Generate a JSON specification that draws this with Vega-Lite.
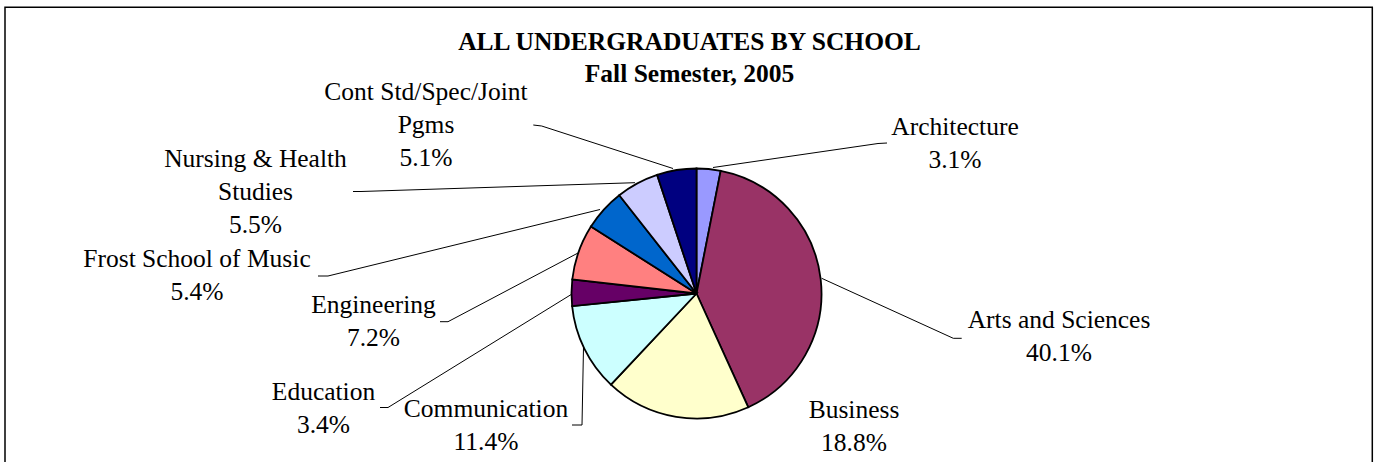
{
  "$schema": "https://vega.github.io/schema/vega-lite/v6.json",
  "width": 1379,
  "height": 462,
  "autosize": "none",
  "padding": 0,
  "background": "white",
  "config": {"view": {"stroke": null}},
  "datasets": {
    "slices": [
      {"ord": 1, "school": "Architecture", "pct": 3.1},
      {"ord": 2, "school": "Arts and Sciences", "pct": 40.1},
      {"ord": 3, "school": "Business", "pct": 18.8},
      {"ord": 4, "school": "Communication", "pct": 11.4},
      {"ord": 5, "school": "Education", "pct": 3.4},
      {"ord": 6, "school": "Engineering", "pct": 7.2},
      {"ord": 7, "school": "Frost School of Music", "pct": 5.4},
      {"ord": 8, "school": "Nursing & Health Studies", "pct": 5.5},
      {"ord": 9, "school": "Cont Std/Spec/Joint Pgms", "pct": 5.1}
    ],
    "labels": [
      {"school": "Architecture", "txt": "Architecture\n3.1%", "lx": 258.5, "ly": 158.5},
      {"school": "Arts and Sciences", "txt": "Arts and Sciences\n40.1%", "lx": 362.5, "ly": -34.5},
      {"school": "Business", "txt": "Business\n18.8%", "lx": 157.5, "ly": -124.5},
      {"school": "Communication", "txt": "Communication\n11.4%", "lx": -210.5, "ly": -123.5},
      {"school": "Education", "txt": "Education\n3.4%", "lx": -373, "ly": -106.5},
      {"school": "Engineering", "txt": "Engineering\n7.2%", "lx": -323, "ly": -19.5},
      {"school": "Frost School of Music", "txt": "Frost School of Music\n5.4%", "lx": -499.5, "ly": 26.5},
      {"school": "Nursing & Health Studies", "txt": "Nursing & Health\nStudies\n5.5%", "lx": -441, "ly": 126.8},
      {"school": "Cont Std/Spec/Joint Pgms", "txt": "Cont Std/Spec/Joint\nPgms\n5.1%", "lx": -270.5, "ly": 193.5}
    ],
    "leaders": [
      {"school": "Architecture", "seq": 1, "lx": 16.5, "ly": 126},
      {"school": "Architecture", "seq": 2, "lx": 181.5, "ly": 150},
      {"school": "Architecture", "seq": 3, "lx": 190.5, "ly": 150.5},
      {"school": "Arts and Sciences", "seq": 1, "lx": 125.2, "ly": 15.2},
      {"school": "Arts and Sciences", "seq": 2, "lx": 256.8, "ly": -44.8},
      {"school": "Arts and Sciences", "seq": 3, "lx": 265.2, "ly": -44.8},
      {"school": "Communication", "seq": 1, "lx": -113, "ly": -53.5},
      {"school": "Communication", "seq": 2, "lx": -114.5, "ly": -131.5},
      {"school": "Communication", "seq": 3, "lx": -124.5, "ly": -131.5},
      {"school": "Education", "seq": 1, "lx": -124.5, "ly": -0.5},
      {"school": "Education", "seq": 2, "lx": -308.5, "ly": -114},
      {"school": "Education", "seq": 3, "lx": -316.5, "ly": -114},
      {"school": "Engineering", "seq": 1, "lx": -118.5, "ly": 40.5},
      {"school": "Engineering", "seq": 2, "lx": -248.5, "ly": -28.2},
      {"school": "Engineering", "seq": 3, "lx": -256.5, "ly": -28.2},
      {"school": "Frost School of Music", "seq": 1, "lx": -96.5, "ly": 84},
      {"school": "Frost School of Music", "seq": 2, "lx": -368.5, "ly": 17.5},
      {"school": "Frost School of Music", "seq": 3, "lx": -378.5, "ly": 17.5},
      {"school": "Nursing & Health Studies", "seq": 1, "lx": -61.5, "ly": 110.8},
      {"school": "Nursing & Health Studies", "seq": 2, "lx": -335.5, "ly": 102},
      {"school": "Nursing & Health Studies", "seq": 3, "lx": -343.5, "ly": 102},
      {"school": "Cont Std/Spec/Joint Pgms", "seq": 1, "lx": -23.5, "ly": 125},
      {"school": "Cont Std/Spec/Joint Pgms", "seq": 2, "lx": -154.8, "ly": 167.5},
      {"school": "Cont Std/Spec/Joint Pgms", "seq": 3, "lx": -163.2, "ly": 168.5}
    ]
  },
  "layer": [
    {
      "data": {"values": [{"x1": -691.5, "x2": 675.8, "y1": 286.2, "y2": -200}]},
      "mark": {"type": "rect", "fill": null, "stroke": "#000000", "strokeWidth": 1.5},
      "encoding": {
        "x": {"field": "x1", "type": "quantitative", "scale": {"domain": [-696.5, 682.5], "nice": false, "zero": false}, "axis": null},
        "x2": {"field": "x2"},
        "y": {"field": "y1", "type": "quantitative", "scale": {"domain": [-168.5, 293.5], "nice": false, "zero": false}, "axis": null},
        "y2": {"field": "y2"}
      }
    },
    {
      "data": {"name": "leaders"},
      "mark": {"type": "line", "stroke": "#000000", "strokeWidth": 1, "interpolate": "linear"},
      "encoding": {
        "x": {"field": "lx", "type": "quantitative", "scale": {"domain": [-696.5, 682.5], "nice": false, "zero": false}, "axis": null},
        "y": {"field": "ly", "type": "quantitative", "scale": {"domain": [-168.5, 293.5], "nice": false, "zero": false}, "axis": null},
        "detail": {"field": "school", "type": "nominal"},
        "order": {"field": "seq", "type": "quantitative"}
      }
    },
    {
      "data": {"name": "slices"},
      "mark": {"type": "arc", "radius": 125, "stroke": "#000000", "strokeWidth": 1.8},
      "encoding": {
        "x": {"datum": 0, "type": "quantitative", "scale": {"domain": [-696.5, 682.5], "nice": false, "zero": false}, "axis": null},
        "y": {"datum": 0, "type": "quantitative", "scale": {"domain": [-168.5, 293.5], "nice": false, "zero": false}, "axis": null},
        "theta": {"field": "pct", "type": "quantitative", "stack": true},
        "order": {"field": "ord", "type": "quantitative"},
        "color": {
          "field": "school",
          "type": "nominal",
          "legend": null,
          "scale": {
            "domain": ["Architecture", "Arts and Sciences", "Business", "Communication", "Education", "Engineering", "Frost School of Music", "Nursing & Health Studies", "Cont Std/Spec/Joint Pgms"],
            "range": ["#9999FF", "#993366", "#FFFFCC", "#CCFFFF", "#660066", "#FF8080", "#0066CC", "#CCCCFF", "#000080"]
          }
        }
      }
    },
    {
      "data": {"name": "labels"},
      "mark": {"type": "text", "font": "Liberation Serif", "fontSize": 25.5, "fill": "#000000", "align": "center", "baseline": "alphabetic", "lineBreak": "\n", "lineHeight": 33},
      "encoding": {
        "x": {"field": "lx", "type": "quantitative", "scale": {"domain": [-696.5, 682.5], "nice": false, "zero": false}, "axis": null},
        "y": {"field": "ly", "type": "quantitative", "scale": {"domain": [-168.5, 293.5], "nice": false, "zero": false}, "axis": null},
        "text": {"field": "txt", "type": "nominal"}
      }
    },
    {
      "data": {"values": [{"t": "ALL UNDERGRADUATES BY SCHOOL\nFall Semester, 2005", "tx": -7, "ty": 243.5}]},
      "mark": {"type": "text", "font": "Liberation Serif", "fontSize": 25.5, "fontWeight": "bold", "fill": "#000000", "align": "center", "baseline": "alphabetic", "lineBreak": "\n", "lineHeight": 32},
      "encoding": {
        "x": {"field": "tx", "type": "quantitative", "scale": {"domain": [-696.5, 682.5], "nice": false, "zero": false}, "axis": null},
        "y": {"field": "ty", "type": "quantitative", "scale": {"domain": [-168.5, 293.5], "nice": false, "zero": false}, "axis": null},
        "text": {"field": "t", "type": "nominal"}
      }
    }
  ]
}
